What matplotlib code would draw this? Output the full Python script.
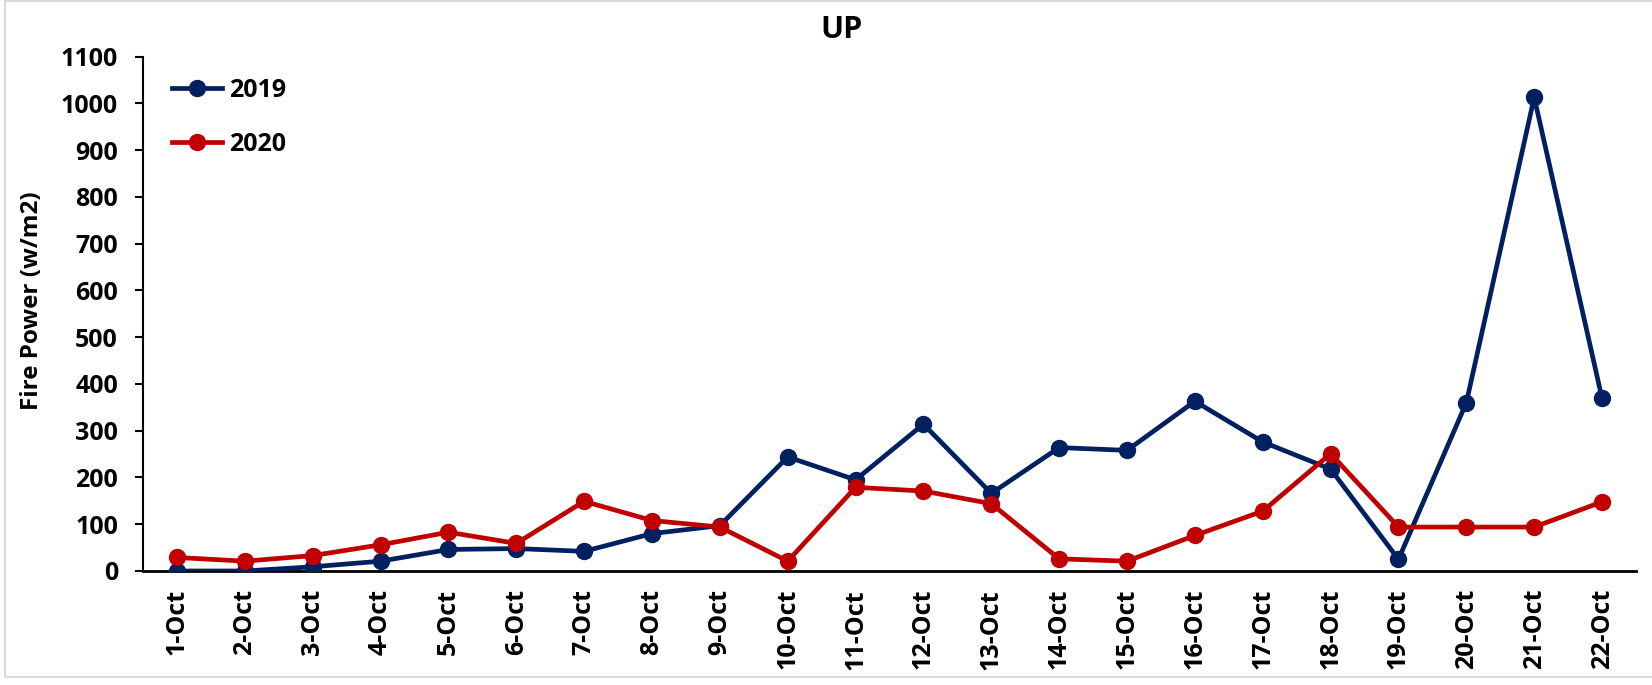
import matplotlib
matplotlib.use("Agg")
import matplotlib.pyplot as plt
from matplotlib.patches import Rectangle

dates = ["1-Oct", "2-Oct", "3-Oct", "4-Oct", "5-Oct", "6-Oct", "7-Oct", "8-Oct",
         "9-Oct", "10-Oct", "11-Oct", "12-Oct", "13-Oct", "14-Oct", "15-Oct",
         "16-Oct", "17-Oct", "18-Oct", "19-Oct", "20-Oct", "21-Oct", "22-Oct"]
fp_2019 = [0, 0, 9, 21, 46, 48, 42, 80, 97, 244, 195, 314, 166, 264, 258,
           363, 276, 218, 25, 360, 1013, 369]
fp_2020 = [29, 21, 33, 56, 83, 59, 149, 108, 94, 21, 179, 171, 144, 26, 21,
           76, 128, 251, 94, 94, 94, 148]
yticks = list(range(0, 1101, 100))

W, H = 1652, 685
fig = plt.figure(figsize=(W / 100, H / 100), dpi=100)
FONT = "Open Sans"
plt.rcParams["font.family"] = [FONT, "DejaVu Sans"]
plt.rcParams["font.weight"] = "bold"
FS = 18

ax = fig.add_axes([143 / W, 1 - 571 / H, (1636 - 143) / W, (571 - 56.7) / H])

blue = "#002060"
red = "#C00000"
x = list(range(len(dates)))
ax.plot(x, fp_2019, color=blue, lw=3.4, marker="o", ms=11.5, label="2019", zorder=3)
ax.plot(x, fp_2020, color=red, lw=3.4, marker="o", ms=11.5, label="2020", zorder=3)

ax.set_xlim(-0.5, len(dates) - 0.5)
ax.set_ylim(0, 1100)
ax.set_yticks(yticks)
ax.set_yticklabels([str(v) for v in yticks], fontsize=FS, fontweight="bold")
ax.set_xticks(x)
ax.set_xticklabels(dates, rotation=90, fontsize=FS, fontweight="bold", va="top")
ax.tick_params(axis="x", length=0, pad=13)
ax.tick_params(axis="y", length=6, width=1.5, direction="out", pad=12)

for s in ["top", "right"]:
    ax.spines[s].set_visible(False)
ax.spines["left"].set_linewidth(1.5)
ax.spines["bottom"].set_linewidth(2)

fig.text(841 / W, 1 - 30.5 / H, "UP", ha="center", va="center",
         fontsize=22, fontweight="bold")
fig.text(32 / W, 1 - 301 / H, "Fire Power (w/m2)", ha="center", va="center",
         rotation=90, fontsize=17.5, fontweight="bold")

leg = ax.legend(loc="upper left", bbox_to_anchor=(172 / W, 1 - 78 / H),
                bbox_transform=fig.transFigure, frameon=False, fontsize=FS,
                handlelength=2.0, handletextpad=0.3, labelspacing=1.15,
                borderpad=0, borderaxespad=0)
for t in leg.get_texts():
    t.set_fontweight("bold")

fig.patches.append(Rectangle((5 / W, 1 - 677 / H), (W + 10) / W, (676) / H,
                             transform=fig.transFigure, fill=False,
                             edgecolor="#d9d9d9", lw=1.5, zorder=0))

fig.savefig("out.png", dpi=100)
